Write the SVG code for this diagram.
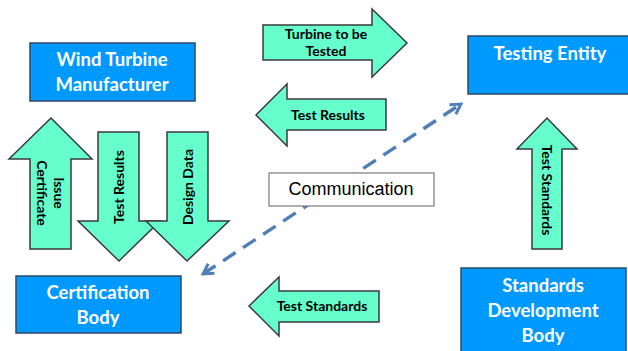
<svg xmlns="http://www.w3.org/2000/svg" width="628" height="351" viewBox="0 0 628 351">
<defs>
<style>
.box{fill:#0099ff;stroke:#2b4a66;stroke-width:1.5}
.btxt{font-family:Lato,"Open Sans",sans-serif;font-weight:bold;font-size:18.5px;fill:#ffffff;text-anchor:middle}
.arr{fill:#66ffcc;stroke:#3a3a3a;stroke-width:1.5;stroke-linejoin:miter}
.atxt{font-family:Lato,"Open Sans",sans-serif;font-weight:bold;font-size:14px;fill:#000000;text-anchor:middle}
.conn{stroke:#4f7db8;stroke-width:3.4;stroke-dasharray:15,9;fill:none}
</style>
<marker id="ah" viewBox="0 0 10 10" refX="8" refY="5" markerWidth="4.2" markerHeight="4.2" orient="auto-start-reverse" markerUnits="strokeWidth">
<path d="M1,1 L8,5 L1,9" fill="none" stroke="#4f7db8" stroke-width="2"/>
</marker>
</defs>
<rect width="628" height="351" fill="#ffffff"/>

<g id="connectors">
<line class="conn" x1="203" y1="274" x2="461" y2="104" marker-start="url(#ah)" marker-end="url(#ah)"/>
</g>

<g id="wind-turbine-manufacturer">
<rect class="box" x="30" y="43" width="165" height="58"/>
<text class="btxt" x="112" y="66">Wind Turbine</text>
<text class="btxt" x="112" y="91">Manufacturer</text>
</g>
<g id="testing-entity">
<rect class="box" x="468" y="36" width="162" height="58"/>
<text class="btxt" x="550" y="60">Testing Entity</text>
</g>
<g id="certification-body">
<rect class="box" x="16" y="276" width="165" height="57"/>
<text class="btxt" x="98" y="299">Certification</text>
<text class="btxt" x="98" y="324">Body</text>
</g>
<g id="standards-development-body">
<rect class="box" x="461" y="268" width="165" height="90"/>
<text class="btxt" x="543" y="292">Standards</text>
<text class="btxt" x="543" y="317">Development</text>
<text class="btxt" x="543" y="342">Body</text>
</g>
<g id="communication">
<rect x="269" y="173" width="165" height="33" fill="#ffffff" stroke="#7a7a7a" stroke-width="1.2"/>
<text x="351" y="195" font-family="'Liberation Sans',Arial,sans-serif" font-size="18" fill="#000" text-anchor="middle">Communication</text>
</g>

<g id="arrow-turbine-to-be-tested">
<polygon class="arr" points="263,25 372,25 372,9 407,43 372,77 372,60 263,60"/>
<text class="atxt" x="326" y="39">Turbine to be</text>
<text class="atxt" x="326" y="56">Tested</text>
</g>
<g id="arrow-test-results-left">
<polygon class="arr" points="386,99 287,99 287,84 256,115 287,146 287,130 386,130"/>
<text class="atxt" x="328" y="120">Test Results</text>
</g>
<g id="arrow-issue-certificate">
<polygon class="arr" points="30,249 30,159 9,159 51,118 92,159 71,159 71,249"/>
<text class="atxt" transform="translate(58,193) rotate(90)" y="4">Issue</text>
<text class="atxt" transform="translate(41,193) rotate(90)" y="4">Certificate</text>
</g>
<g id="arrow-test-results-down">
<polygon class="arr" points="98,132 139,132 139,221 160,221 119,261 78,221 98,221"/>
<text class="atxt" transform="translate(119,187) rotate(-90)" y="5">Test Results</text>
</g>
<g id="arrow-design-data">
<polygon class="arr" points="167,132 208,132 208,221 229,221 187,261 146,221 167,221"/>
<text class="atxt" transform="translate(188,187) rotate(-90)" y="5">Design Data</text>
</g>
<g id="arrow-test-standards-left">
<polygon class="arr" points="379,291 279,291 279,277 249,306 279,336 279,322 379,322"/>
<text class="atxt" x="322" y="311">Test Standards</text>
</g>
<g id="arrow-test-standards-up">
<polygon class="arr" points="532,249 532,149 517,149 547,118 577,149 562,149 562,249"/>
<text class="atxt" transform="translate(547,190) rotate(90)" y="5">Test Standards</text>
</g>
</svg>
